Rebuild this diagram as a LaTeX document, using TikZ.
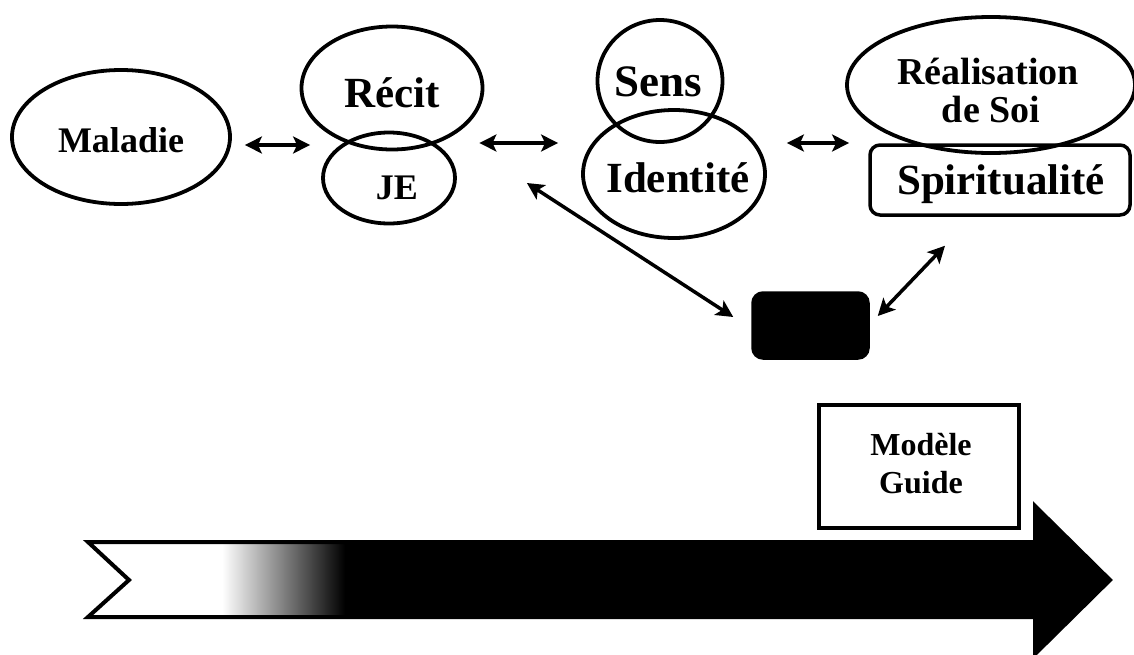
\documentclass[tikz,border=0pt]{standalone}
\usepackage{fontspec}
\setmainfont{Liberation Serif}
\usetikzlibrary{arrows.meta,shapes.geometric,calc}
\newcommand\setfs[1]{\fontsize{#1}{#1}\selectfont}

\begin{document}
\begin{tikzpicture}[x=1pt,y=-1pt,
  oval/.style={draw, ellipse, line width=3.8pt, inner sep=0pt},
  lbl/.style={anchor=base, inner sep=0pt, font=\bfseries\setfs{#1}},
  link/.style={line width=3.5pt, {Stealth[length=17pt,width=17pt,inset=4pt]}-{Stealth[length=17pt,width=17pt,inset=4pt]}},
  card/.style={draw, line width=3.5pt, rounded corners=10pt, inner sep=0pt},
]
\useasboundingbox (0,0) rectangle (1134,654);

% --- shapes of the upper row ---
\node[oval, minimum width=218pt, minimum height=134pt] (maladie) at (121,137) {};
\node[oval, minimum width=181pt, minimum height=123pt] (recit) at (392,88) {};
\node[oval, minimum width=132pt, minimum height=91pt] (je) at (389,178) {};
\node[oval, minimum width=125pt, minimum height=122pt] (sens) at (660,81) {};
\node[oval, minimum width=182pt, minimum height=128pt] (identite) at (674,174) {};
\node[oval, minimum width=288pt, minimum height=136pt] (realis) at (991,85) {};
\node[card, minimum width=260pt, minimum height=70pt] (spirit) at (1000,180) {};
\node[card, fill=black, minimum width=115pt, minimum height=65pt] (blackbox) at (810.5,325.5) {};
\node[draw, line width=3.2pt, minimum width=200pt, minimum height=123pt, inner sep=0pt] (modele) at (919,466.5) {};

% --- labels ---
\node[lbl=36] (maladie-t) at (121,152) {Maladie};
\node[lbl=43] (recit-t) at (392,107) {Récit};
\node[lbl=36] (je-t) at (397,199) {JE};
\node[lbl=45] (sens-t) at (658,96) {Sens};
\node[lbl=43] (identite-t) at (678,192) {Identité};
\node[lbl=38] (realis-t1) at (988,84) {Réalisation};
\node[lbl=38] (realis-t2) at (991,122) {de Soi};
\node[lbl=43] (spirit-t) at (1001,194) {Spiritualité};
\node[lbl=32] (modele-t1) at (921,455) {Modèle};
\node[lbl=32] (modele-t2) at (921,493) {Guide};

% --- connectors ---
\draw[link] ($(maladie.east)+(13,8)$) -- ($(je.west)+(-11,-33)$);
\draw[link] ($(recit.east)+(-5,55)$) -- ($(identite.west)+(-23,-31)$);
\draw[link] ($(identite.east)+(20,-31)$) -- ($(realis.west)+(4,58)$);
\draw[link] ($(je.east)+(70,5)$) -- ($(blackbox.west)+(-18,-8.5)$);
\draw[link] ($(blackbox.east)+(8,-9.5)$) -- ($(spirit.south)+(-55,29)$);

% --- time arrow with notched tail, fading from white to black ---
\fill[black] (227,542) -- (1035,542) -- (1035,506) -- (1110,580) -- (1035,654)
  -- (1035,617) -- (227,617) -- cycle;
\shade[left color=white, right color=black] (222,542) rectangle (345,617);
\draw[line width=4pt, line join=miter] (88,542) -- (1035,542) -- (1035,506)
  -- (1110,580) -- (1035,654) -- (1035,617) -- (88,617) -- (129,580) -- cycle;
\end{tikzpicture}
\end{document}
